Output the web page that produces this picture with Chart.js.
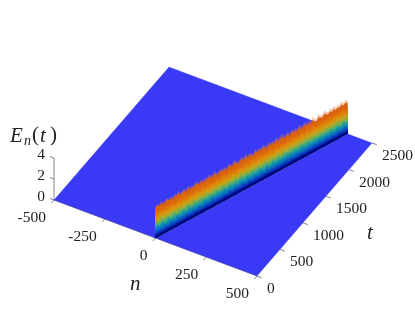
<!DOCTYPE html>
<html>
<head>
<meta charset="utf-8">
<script src="https://cdn.jsdelivr.net/npm/chart.js@4"></script>
<style>
  html, body { margin: 0; padding: 0; background: #fff; }
  canvas { display: block; }
</style>
</head>
<body>
<canvas id="chart" width="415" height="312"></canvas>
<script>
// axes of the 3d box
const nTicks = [-500, -250, 0, 250, 500];
const tTicks = [0, 500, 1000, 1500, 2000, 2500];
const eTicks = [0, 2, 4];

// ridge, one entry every 25 time units
const ridgeT = [0,25,50,75,100,125,150,175,200,225,250,275,300,325,350,375,400,425,450,475,
  500,525,550,575,600,625,650,675,700,725,750,775,800,825,850,875,900,925,950,975,
  1000,1025,1050,1075,1100,1125,1150,1175,1200,1225,1250,1275,1300,1325,1350,1375,1400,1425,1450,1475,
  1500,1525,1550,1575,1600,1625,1650,1675,1700,1725,1750,1775,1800,1825,1850,1875,1900,1925,1950,1975,
  2000,2025,2050,2075,2100,2125,2150,2175,2200,2225,2250,2275,2300,2325,2350,2375,2400,2425,2450,2475,2500];
const ridgeN = [0,4,8,11,15,19,23,26,30,34,38,42,45,49,53,57,60,64,68,72,
  76,79,83,87,91,95,98,102,106,110,113,117,121,125,129,132,136,140,144,147,
  151,155,159,163,166,170,174,178,181,185,189,193,197,200,204,208,212,216,219,223,
  227,231,234,238,242,246,250,253,257,261,265,268,272,276,280,284,287,291,295,299,
  302,306,310,314,318,321,325,329,333,337,340,344,348,352,355,359,363,367,370,374,378];
const ridgePeak = [2.9,2.98,2.82,3.02,2.78,2.94,3.05,2.84,2.96,2.74,3.0,2.88,3.06,2.8,2.92,2.99,2.76,3.03,2.86,2.95,
  2.79,3.07,2.9,2.83,3.01,2.75,2.97,2.87,3.04,2.81,2.93,3.06,2.77,2.89,3.0,2.85,2.98,2.73,3.03,2.91,
  2.82,3.05,2.95,2.78,2.88,3.02,2.84,3.07,2.8,2.96,2.9,2.74,3.04,2.86,2.99,2.83,3.06,2.92,2.76,3.01,
  2.88,2.97,2.79,3.05,2.85,2.94,3.08,2.81,2.9,3.0,2.75,3.03,2.87,2.96,2.82,3.07,2.78,2.93,3.02,2.86,
  2.98,2.8,3.06,2.89,2.76,3.04,2.92,2.84,3.08,2.95,2.79,3.01,2.87,3.05,2.82,2.97,2.9,3.07,2.85,3.0,2.94];
const ridgeFringe = [2.95,3.12,2.92,3.18,2.96,3.06,3.22,2.98,3.14,2.93,3.2,3.02,3.24,2.97,3.1,3.19,2.94,3.25,3.03,3.15,
  2.96,3.27,3.08,3.0,3.22,2.94,3.16,3.04,3.26,2.98,3.11,3.28,2.95,3.07,3.21,3.02,3.18,2.93,3.26,3.1,
  3.0,3.28,3.14,2.97,3.06,3.24,3.02,3.3,2.99,3.17,3.09,2.95,3.28,3.05,3.2,3.01,3.31,3.12,2.97,3.25,
  3.07,3.19,2.98,3.3,3.04,3.16,3.33,3.0,3.1,3.24,2.96,3.29,3.06,3.2,3.02,3.34,2.99,3.14,3.28,3.05,
  3.22,3.0,3.35,3.1,2.98,3.32,3.14,3.04,3.37,3.2,3.0,3.28,3.08,3.34,3.03,3.22,3.12,3.36,3.06,3.26,3.16];

// height of each colour band as a share of the ridge, top band first
const bandLevels = [1, 0.9, 0.8, 0.72, 0.65, 0.58, 0.52, 0.46, 0.4, 0.34, 0.28, 0.22, 0.16, 0.1, 0.05];
const bandColors = ["#d8600f", "#dc6a0c", "#e07a0a", "#dc8c0c", "#d09c14", "#b4a826", "#8cae46", "#5cac6a",
  "#30a48e", "#1090aa", "#0a78bc", "#0a58c4", "#0a38b8", "#04169a", "#00007e"];
const ridgeHeight = 2.9;

// faint light cone on the floor
const coneN = [-488, 0, 500];
const coneT = [950, 0, 1000];

const floorColor = "#3a3af6";
const axisColor = "#505050";

// view of the box, plane units per data unit
function px(n, t) { return 155.5 + 0.203 * n + 0.046 * t; }
function py(n, t, e) { return 238 + 0.076 * n - 0.0532 * t - 10.5 * e; }
function pt(n, t, e) { return { x: px(n, t), y: py(n, t, e) }; }

function lineSet(data, color, width) {
  return { data: data, showLine: true, fill: false, borderColor: color, borderWidth: width, pointRadius: 0, clip: false };
}
function shapeSet(data, color) {
  return { data: data, showLine: true, fill: "shape", backgroundColor: color, borderColor: color, borderWidth: 0.3, pointRadius: 0, clip: false };
}

function bandShape(levels) {
  const top = ridgeT.map((t, i) => pt(ridgeN[i], t, levels[i]));
  const base = ridgeT.map((t, i) => pt(ridgeN[i], t, 0)).reverse();
  return top.concat(base, [top[0]]);
}

// each band reads the peak list a few steps further on, that gives the slanted mottling
function bandLevelsAt(lvl, b) {
  return ridgePeak.map((_, i) => {
    const p = ridgePeak[(i + b * 3) % ridgePeak.length];
    return lvl * ridgeHeight + (p - ridgeHeight) * Math.min(1, lvl * 2.5);
  });
}

const layers = [];
// tick marks and axis lines go first so the floor sits over their roots
nTicks.forEach(n => layers.push(lineSet([pt(n, 0, 0), pt(n, -60, 0)], axisColor, 0.7)));
tTicks.forEach(t => layers.push(lineSet([pt(500, t, 0), pt(524, t, 0)], axisColor, 0.7)));
eTicks.forEach(e => layers.push(lineSet([pt(-500, 0, e), pt(-520, 0, e)], axisColor, 0.7)));
layers.push(lineSet([pt(-500, 0, 0), pt(-500, 0, 4)], axisColor, 0.7));

layers.push(shapeSet([pt(-500, 0, 0), pt(500, 0, 0), pt(500, 2500, 0), pt(-500, 2500, 0), pt(-500, 0, 0)], floorColor));
layers.push(lineSet([pt(-500, 0, 0), pt(500, 0, 0)], "#34347e", 0.5));
layers.push(lineSet(coneN.map((n, i) => pt(n, coneT[i], 0)), "rgba(40,40,215,0.3)", 0.6));

layers.push(shapeSet(bandShape(ridgeFringe), "rgba(226,130,70,0.4)"));
bandLevels.forEach((lvl, b) => {
  layers.push(shapeSet(bandShape(bandLevelsAt(lvl, b)), bandColors[b]));
});

// chart.js paints the last dataset first, so flip the stack
const datasets = layers.slice().reverse();

const labelsPlugin = {
  id: "boxLabels",
  afterDatasetsDraw(chart) {
    const c = chart.ctx;
    const sx = chart.scales.x, sy = chart.scales.y;
    const at = p => ({ x: sx.getPixelForValue(p.x), y: sy.getPixelForValue(p.y) });
    c.save();
    c.fillStyle = "#222";
    c.textBaseline = "middle";
    c.font = "15.5px 'Liberation Serif'";

    c.textAlign = "right";
    nTicks.forEach(n => { const p = at(pt(n, 0, 0)); c.fillText(String(n), p.x - 8, p.y + 18); });
    eTicks.forEach(e => { const p = at(pt(-500, 0, e)); c.fillText(String(e), p.x - 9, p.y - 3); });

    c.textAlign = "left";
    tTicks.forEach(t => { const p = at(pt(500, t, 0)); c.fillText(String(t), p.x + 10, p.y + 13); });

    c.font = "italic 21px 'Liberation Serif'";
    c.fillText("n", 130, 284);
    c.fillText("t", 367, 233);
    c.fillText("E", 10, 136);
    c.font = "italic 14px 'Liberation Serif'";
    c.fillText("n", 24, 141);
    c.font = "21px 'Liberation Serif'";
    c.fillText("(", 32, 135);
    c.fillText(")", 50, 135);
    c.font = "italic 21px 'Liberation Serif'";
    c.fillText("t", 40, 136);
    c.restore();
  }
};

new Chart(document.getElementById("chart"), {
  type: "scatter",
  data: { datasets: datasets },
  plugins: [labelsPlugin],
  options: {
    responsive: false,
    animation: false,
    events: [],
    layout: { padding: 0 },
    plugins: { legend: { display: false }, tooltip: { enabled: false } },
    scales: {
      x: { type: "linear", min: 0, max: 415, display: false },
      y: { type: "linear", min: 0, max: 312, reverse: true, display: false }
    }
  }
});
</script>
</body>
</html>
